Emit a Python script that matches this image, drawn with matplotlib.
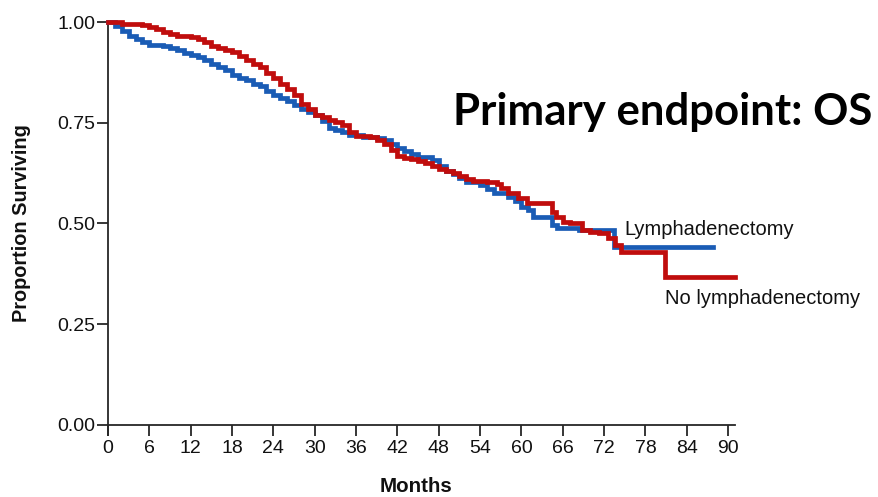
import matplotlib
matplotlib.use("Agg")
import matplotlib.pyplot as plt

# Kaplan-Meier curves
lymph_t = [0, 1, 2, 3, 4, 5, 6, 8, 9, 10, 11, 12, 13, 14, 15, 16, 17, 18, 19, 20,
           21, 22, 23, 24, 25, 26, 27, 28, 29, 30, 31, 32, 33, 34, 35, 37, 39, 40,
           41, 42, 43, 44, 45, 47, 48, 49, 50, 51, 52, 54, 55, 56, 58, 59, 60, 61,
           61.7, 64.4, 65.2, 68.4, 73.4, 87.8]
lymph_s = [1.000, 0.990, 0.978, 0.965, 0.957, 0.950, 0.944, 0.940, 0.935, 0.930,
           0.924, 0.918, 0.913, 0.905, 0.895, 0.888, 0.880, 0.868, 0.862, 0.857,
           0.846, 0.840, 0.830, 0.820, 0.812, 0.803, 0.795, 0.785, 0.776, 0.768,
           0.755, 0.738, 0.732, 0.726, 0.720, 0.715, 0.712, 0.706, 0.698, 0.688,
           0.680, 0.672, 0.665, 0.658, 0.642, 0.630, 0.622, 0.612, 0.604, 0.596,
           0.585, 0.575, 0.566, 0.556, 0.541, 0.533, 0.517, 0.496, 0.489, 0.484,
           0.442, 0.442]

nolymph_t = [0, 2, 5, 6, 7, 8, 9, 10, 12, 13, 14, 15, 16, 17, 18, 19, 20, 21, 22,
             23, 24, 25, 26, 27, 28, 29, 30, 31, 32, 33, 34, 35, 36, 38, 39, 40, 41,
             42, 43, 44, 45, 46, 47, 48, 49, 50, 51, 52, 53, 55, 56.5, 57, 58, 59.5,
             60.8, 64.4, 65, 66.1, 67.1, 68.8, 70.0, 71.2, 72.6, 73.6, 74.5, 80.8, 91]
nolymph_s = [1.000, 0.995, 0.992, 0.987, 0.982, 0.975, 0.970, 0.966, 0.963, 0.958,
             0.950, 0.940, 0.935, 0.931, 0.925, 0.916, 0.906, 0.897, 0.888, 0.873,
             0.860, 0.847, 0.833, 0.818, 0.797, 0.783, 0.768, 0.764, 0.758, 0.752,
             0.744, 0.728, 0.718, 0.715, 0.708, 0.697, 0.682, 0.667, 0.662, 0.660,
             0.654, 0.651, 0.642, 0.636, 0.630, 0.626, 0.618, 0.610, 0.605, 0.603,
             0.598, 0.588, 0.575, 0.564, 0.551, 0.529, 0.517, 0.504, 0.500, 0.484,
             0.480, 0.476, 0.464, 0.447, 0.430, 0.366, 0.366]

x_ticks = list(range(0, 91, 6))
y_ticks = [0.0, 0.25, 0.5, 0.75, 1.0]
y_labels = ["0.00", "0.25", "0.50", "0.75", "1.00"]

plt.rcParams['font.family'] = ['Liberation Sans', 'DejaVu Sans']
ink = '#262626'

fig = plt.figure(figsize=(8.79, 4.97), dpi=100)
ax = fig.add_axes([0.1229, 0.1247, 0.7133, 0.8310])

ax.step(lymph_t, lymph_s, where='post', color='#1a5cb5', lw=3.4, clip_on=False,
        solid_joinstyle='miter', zorder=3)
ax.step(nolymph_t, nolymph_s, where='post', color='#c00d0d', lw=3.4, clip_on=False,
        solid_joinstyle='miter', zorder=4)

ax.set_xlim(0, 91)
ax.set_ylim(-0.025, 1.0)
ax.spines['top'].set_visible(False)
ax.spines['right'].set_visible(False)
ax.spines['bottom'].set_position(('data', 0))
for s in ('left', 'bottom'):
    ax.spines[s].set_color(ink)
    ax.spines[s].set_linewidth(1.3)

ax.set_xticks(x_ticks)
ax.set_yticks(y_ticks)
ax.set_yticklabels(y_labels)
ax.tick_params(axis='both', direction='out', color=ink, width=1.3, labelsize=14,
               labelcolor='#111111')
ax.tick_params(axis='y', length=8, pad=1)
ax.tick_params(axis='x', length=8, pad=3)

ax.text(75.0, 0.486, "Lymphadenectomy", fontsize=14.5, va='center', ha='left',
        color='#111111')
ax.text(80.9, 0.313, "No lymphadenectomy", fontsize=14.5, va='center', ha='left',
        color='#111111')

fig.text(22 / 879, 1 - 223 / 497, "Proportion Surviving", rotation=90, ha='center',
         va='center', fontsize=14.3, fontweight='bold', color='#111111')
fig.text(416 / 879, 1 - 487 / 497, "Months", ha='center', va='center', fontsize=14.8,
         fontweight='bold', color='#111111')

fig.text(0.993, 1 - 125 / 497, "Primary endpoint: OS", ha='right', va='baseline',
         fontsize=31.5, fontweight='bold', family=['Lato', 'DejaVu Sans'], color='black')

fig.savefig("out.png", dpi=100)
